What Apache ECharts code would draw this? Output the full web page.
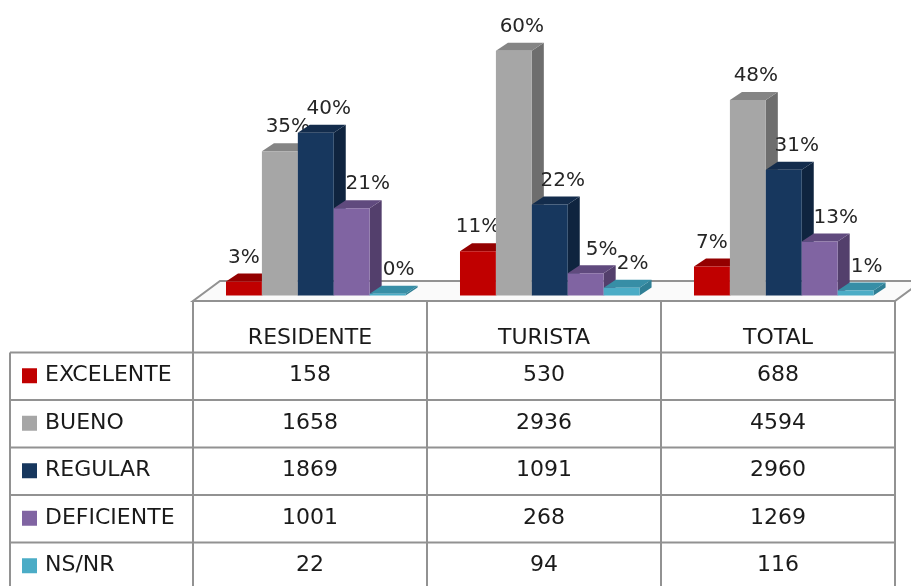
<!DOCTYPE html>
<html lang="es">
<head>
    <meta charset="UTF-8">
    <title>Calificación del servicio</title>
    <script src="https://cdn.jsdelivr.net/npm/echarts@6/dist/echarts.min.js"></script>
    <style>
        html, body { margin: 0; padding: 0; background: #fff; }
        #main { width: 911px; height: 586px; }
    </style>
</head>
<body>
<div id="main"></div>

<script>
    // datos
    var categorias = ['RESIDENTE', 'TURISTA', 'TOTAL'];
    var nombres = ['EXCELENTE', 'BUENO', 'REGULAR', 'DEFICIENTE', 'NS/NR'];

    // cantidades (tabla)
    var excelente = [158, 530, 688];
    var bueno = [1658, 2936, 4594];
    var regular = [1869, 1091, 2960];
    var deficiente = [1001, 268, 1269];
    var nsnr = [22, 94, 116];

    // porcentajes (barras)
    var pctExcelente = [3.4, 10.8, 7.1];
    var pctBueno = [35.2, 59.7, 47.7];
    var pctRegular = [39.7, 22.2, 30.7];
    var pctDeficiente = [21.3, 5.4, 13.2];
    var pctNsnr = [0.4, 1.9, 1.2];

    var cantidades = [excelente, bueno, regular, deficiente, nsnr];
    var porcentajes = [pctExcelente, pctBueno, pctRegular, pctDeficiente, pctNsnr];

    // colores: frente, lado, tapa
    var colFrente = ['#C00000', '#A6A6A6', '#17375E', '#8064A2', '#4BACC6'];
    var colLado = ['#8A0000', '#6E6E6E', '#0F243F', '#533F6C', '#2F7F95'];
    var colTapa = ['#940000', '#858585', '#132C4C', '#604A7E', '#378EA6'];
    var desplEtiqueta = [0, 8, 13, 16, 11];

    var FUENTE = 'DejaVu Sans';
    var dx = 12, dy = 8;

    var myChart = echarts.init(document.getElementById('main'));

    function hacerSerie(si) {
        return {
            name: nombres[si],
            type: 'custom',
            z: 2,
            data: porcentajes[si].map(function (v, i) { return [i, v]; }),
            renderItem: function (params, api) {
                var ci = api.value(0);
                var v = api.value(1);
                var base = api.coord([ci, 0]);
                var top = api.coord([ci, v]);
                var band = api.size([1, 0])[0];
                var w = band * 0.1535;
                var x0 = base[0] - band * 0.359 + si * w;
                var yt = top[1], yb = base[1];
                return {
                    type: 'group',
                    children: [
                        {
                            type: 'polygon',
                            shape: { points: [[x0 + w, yt], [x0 + w + dx, yt - dy], [x0 + w + dx, yb - dy], [x0 + w, yb]] },
                            style: { fill: colLado[si] }
                        },
                        {
                            type: 'polygon',
                            shape: { points: [[x0, yt], [x0 + dx, yt - dy], [x0 + w + dx, yt - dy], [x0 + w, yt]] },
                            style: { fill: colTapa[si] }
                        },
                        {
                            type: 'rect',
                            shape: { x: x0, y: yt, width: w, height: yb - yt },
                            style: { fill: colFrente[si] }
                        },
                        {
                            type: 'text',
                            style: {
                                text: Math.round(v) + '%',
                                x: x0 + w / 2 + desplEtiqueta[si],
                                y: yt - 24,
                                align: 'center',
                                verticalAlign: 'middle',
                                font: '20px "' + FUENTE + '"',
                                fill: '#262626'
                            }
                        }
                    ]
                };
            }
        };
    }

    var series = [];
    for (var s = 0; s < nombres.length; s++) {
        series.push(hacerSerie(s));
    }

    var option = {
        animation: false,
        grid: { left: 193, right: 16, top: 8.5, bottom: 290.5 },
        xAxis: {
            type: 'category',
            data: categorias,
            axisLine: { show: false },
            axisTick: { show: false },
            axisLabel: { show: false }
        },
        yAxis: {
            type: 'value',
            min: 0,
            max: 70,
            show: false,
            splitLine: { show: false }
        },
        series: series
    };

    myChart.setOption(option);

    // piso y tabla
    var gris = '#929292';
    var xs = [];
    for (var i = 0; i < categorias.length; i++) {
        xs.push(myChart.convertToPixel({ xAxisIndex: 0 }, i));
    }
    var band = xs[1] - xs[0];
    var xIzq = xs[0] - band / 2;
    var xDer = xs[xs.length - 1] + band / 2;
    var yPiso = 301, yFondo = 281;
    var yFila = 352.5, altoFila = 47.5;
    var xTabla = 10;

    var g = [];
    g.push({
        type: 'polygon',
        z: 0,
        shape: { points: [[xIzq, yPiso], [xDer, yPiso], [xDer + 27, yFondo], [xIzq + 27, yFondo]] },
        style: { fill: '#FAFAFA', stroke: gris, lineWidth: 2 }
    });

    function linea(x1, y1, x2, y2) {
        g.push({
            type: 'line',
            z: 1,
            shape: { x1: x1, y1: y1, x2: x2, y2: y2 },
            style: { stroke: gris, lineWidth: 2 }
        });
    }

    var yFin = 590;
    // horizontales
    for (var r = 0; r <= nombres.length; r++) {
        var yy = yFila + r * altoFila;
        if (yy < 586) linea(xTabla, yy, xDer, yy);
    }
    // verticales
    linea(xTabla, yFila, xTabla, yFin);
    for (var c = 0; c <= categorias.length; c++) {
        linea(xIzq + c * band, yPiso, xIzq + c * band, yFin);
    }

    // encabezados
    for (var c2 = 0; c2 < categorias.length; c2++) {
        g.push({
            type: 'text',
            z: 3,
            style: {
                text: categorias[c2],
                x: xs[c2], y: 338,
                align: 'center', verticalAlign: 'middle',
                font: '22px "' + FUENTE + '"', fill: '#1A1A1A'
            }
        });
    }

    // filas
    for (var r2 = 0; r2 < nombres.length; r2++) {
        var yc = yFila + r2 * altoFila + altoFila / 2 - 0.5;
        g.push({
            type: 'rect',
            z: 3,
            shape: { x: 22, y: yc - 7.5, width: 15, height: 15 },
            style: { fill: colFrente[r2] }
        });
        g.push({
            type: 'text',
            z: 3,
            style: {
                text: nombres[r2],
                x: 45, y: yc,
                align: 'left', verticalAlign: 'middle',
                font: '22px "' + FUENTE + '"', fill: '#1A1A1A'
            }
        });
        for (var c3 = 0; c3 < categorias.length; c3++) {
            g.push({
                type: 'text',
                z: 3,
                style: {
                    text: String(cantidades[r2][c3]),
                    x: xs[c3], y: yc,
                    align: 'center', verticalAlign: 'middle',
                    font: '22px "' + FUENTE + '"', fill: '#1A1A1A'
                }
            });
        }
    }

    myChart.setOption({ graphic: { elements: g } });
</script>
</body>
</html>
